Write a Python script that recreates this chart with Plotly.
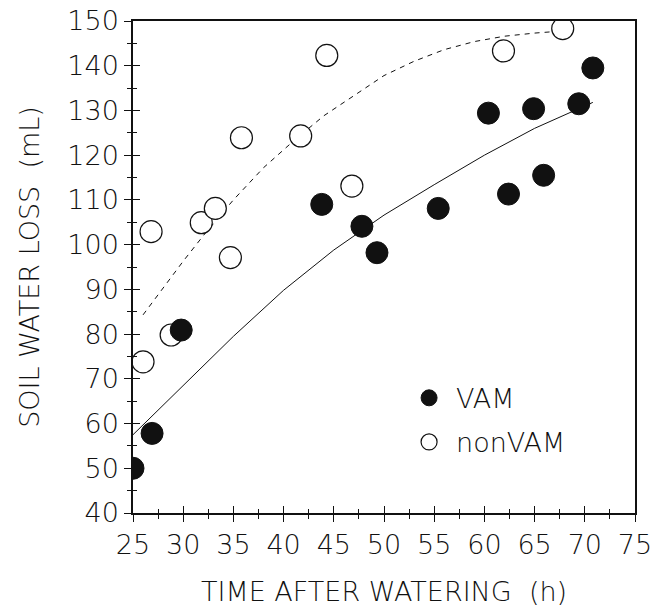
import plotly.graph_objects as go

# measured points
vam_x = [25.0, 26.9, 29.8, 43.8, 47.8, 49.3, 55.4, 60.4, 62.4, 64.9, 65.9, 69.4, 70.8]
vam_y = [50.0, 57.8, 80.9, 109.0, 104.1, 98.2, 108.1, 129.4, 111.3, 130.4, 115.5, 131.5, 139.5]

non_x = [26.0, 28.8, 26.8, 31.8, 33.2, 34.7, 35.8, 41.7, 44.3, 46.8, 61.9, 67.8]
non_y = [73.8, 79.8, 102.9, 104.9, 108.1, 97.1, 123.9, 124.3, 142.3, 113.1, 143.3, 148.3]

# fitted curves
vam_fit_x = [25, 30, 35, 40, 45, 50, 55, 60, 65, 70, 70.8]
vam_fit_y = [57.5, 68.6, 79.5, 89.8, 98.8, 106.6, 113.4, 120.0, 126.0, 131.0, 131.8]

non_fit_x = [26, 28, 30, 32, 35, 38, 41, 44, 47, 50, 53, 56, 59, 62, 65, 68]
non_fit_y = [84.3, 90.4, 96.3, 102.0, 110.0, 117.2, 123.2, 128.8, 133.3, 137.8, 141.0, 143.6, 145.4, 146.6, 147.3, 147.8]

XR = [25, 75]
YR = [40, 150]
FONT = "DejaVu Sans"
INK = "#111111"
TXT = dict(family=FONT, size=27, color=INK, weight=200)

fig = go.Figure()

fig.add_trace(go.Scatter(
    x=non_fit_x, y=non_fit_y, mode="lines", showlegend=False,
    line=dict(color=INK, width=1, dash="5px,5px"),
))
fig.add_trace(go.Scatter(
    x=vam_fit_x, y=vam_fit_y, mode="lines", showlegend=False,
    line=dict(color=INK, width=1),
))
fig.add_trace(go.Scatter(
    x=non_x, y=non_y, mode="markers", name="nonVAM", legendrank=2,
    legendgroup="non",
    marker=dict(size=22, color="white", line=dict(color=INK, width=1.2)),
))
fig.add_trace(go.Scatter(
    x=vam_x, y=vam_y, mode="markers", name="VAM", legendrank=1,
    legendgroup="vam",
    marker=dict(size=22, color=INK, line=dict(color=INK, width=1)),
))
# invisible copy on the overlay axes, so their inner ticks get drawn
fig.add_trace(go.Scatter(
    x=vam_x, y=vam_y, mode="markers", xaxis="x2", yaxis="y2",
    marker=dict(opacity=0), showlegend=False, hoverinfo="skip",
))

axis_common = dict(
    showgrid=False, zeroline=False, linecolor=INK, linewidth=1.5,
    tickcolor=INK, tickwidth=1.2, automargin=False,
    tickfont=TXT,
)

fig.update_layout(
    width=654,
    height=614,
    margin=dict(l=133, r=19, t=21, b=101),
    paper_bgcolor="white",
    plot_bgcolor="white",
    font=dict(family=FONT, color=INK),
    xaxis=dict(
        **axis_common,
        range=XR, dtick=5, tick0=25, ticks="outside", ticklen=7,
        minor=dict(dtick=2.5, tick0=25, ticks="outside", ticklen=4, tickcolor=INK),
        mirror=True,
        title=dict(text="TIME AFTER WATERING \u00a0(h)", standoff=23, font=TXT),
    ),
    yaxis=dict(
        **axis_common,
        range=YR, dtick=10, tick0=40, ticks="outside", ticklen=7,
        minor=dict(dtick=5, tick0=40, ticks="outside", ticklen=4, tickcolor=INK),
        mirror=True,
        title=dict(text="SOIL WATER LOSS \u00a0(mL)", standoff=20, font=TXT),
    ),
    xaxis2=dict(
        overlaying="x", anchor="y", range=XR, dtick=5, tick0=25,
        ticks="inside", ticklen=7, tickcolor=INK, tickwidth=1.2,
        minor=dict(dtick=2.5, tick0=25, ticks="inside", ticklen=4, tickcolor=INK),
        showticklabels=False, showgrid=False, zeroline=False, showline=False,
        automargin=False,
    ),
    yaxis2=dict(
        overlaying="y", anchor="x", range=YR, dtick=10, tick0=40,
        ticks="inside", ticklen=7, tickcolor=INK, tickwidth=1.2,
        minor=dict(dtick=5, tick0=40, ticks="inside", ticklen=4, tickcolor=INK),
        showticklabels=False, showgrid=False, zeroline=False, showline=False,
        automargin=False,
    ),
    legend=dict(
        x=0.536, y=0.283, xanchor="left", yanchor="top",
        bgcolor="rgba(0,0,0,0)", font=TXT,
        itemsizing="trace", tracegroupgap=6, itemwidth=44,
    ),
)

fig.write_html(
    "out.html",
    config={"displayModeBar": False},
    post_script="document.body.style.margin='0';",
)
